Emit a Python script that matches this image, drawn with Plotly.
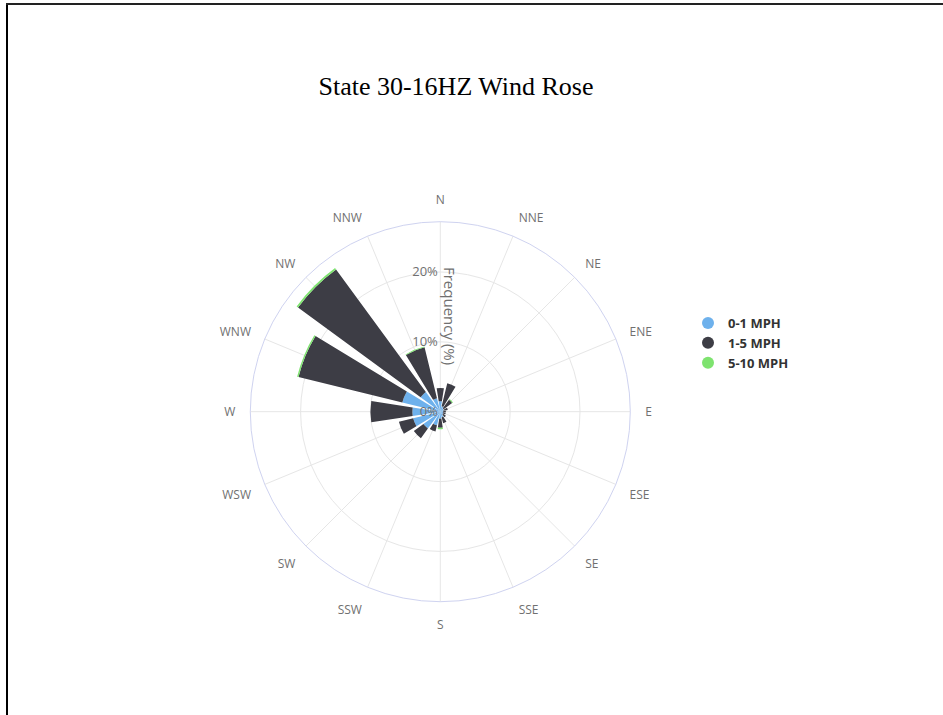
import plotly.graph_objects as go

directions = ["N", "NNE", "NE", "ENE", "E", "ESE", "SE", "SSE",
              "S", "SSW", "SW", "WSW", "W", "WNW", "NW", "NNW"]
speed_0_1 = [1.5, 0.8, 0.6, 0.5, 0.4, 0.4, 0.5, 0.8, 1.0, 2.0, 3.0, 4.0, 4.0, 5.6, 3.5, 2.0]
speed_1_5 = [1.9, 3.4, 1.5, 0.6, 0.4, 0.4, 0.5, 0.9, 1.3, 0.9, 1.7, 2.1, 6.0, 15.3, 21.75, 7.5]
speed_5_10 = [0.0, 0.0, 0.15, 0.0, 0.0, 0.0, 0.0, 0.0, 0.2, 0.0, 0.0, 0.0, 0.0, 0.2, 0.25, 0.1]

series_names = ["0-1 MPH", "1-5 MPH", "5-10 MPH"]
series_values = [speed_0_1, speed_1_5, speed_5_10]
series_colors = ["#6eb1ec", "#3d3d45", "#7ee36f"]

radial_ticks = [0, 10, 20]
radial_labels = ["0%", "10%", "20%"]

W, H = 943, 715

fig = go.Figure()
for name, vals, col in zip(series_names, series_values, series_colors):
    fig.add_trace(go.Barpolar(
        r=vals, theta=directions, name=name,
        marker=dict(color=col, line=dict(width=0)),
        showlegend=False,
    ))
# legend entries with circular markers
for name, col in zip(series_names, series_colors):
    fig.add_trace(go.Scatterpolar(
        r=[None], theta=[None], mode="markers", name=name,
        marker=dict(color=col, size=12, symbol="circle"),
        showlegend=True,
    ))

fig.update_layout(
    width=W, height=H,
    margin=dict(l=0, r=0, t=0, b=0),
    paper_bgcolor="white",
    title=dict(text="State 30-16HZ Wind Rose", x=456 / W, xanchor="center",
               y=1 - 86 / H, yanchor="middle",
               font=dict(family="Liberation Serif", size=26, color="#000000")),
    polar=dict(
        domain=dict(x=[(440.3 - 190) / W, (440.3 + 190) / W],
                    y=[(H - 411.7 - 190) / H, (H - 411.7 + 190) / H]),
        bgcolor="white",
        barmode="stack",
        bargap=0.22,
        angularaxis=dict(
            direction="clockwise", rotation=90,
            categoryorder="array", categoryarray=directions,
            showline=True, linecolor="#cfd3f0", linewidth=1,
            gridcolor="#e6e6e6", gridwidth=1,
            ticks="outside", ticklen=12, tickcolor="rgba(0,0,0,0)",
            tickfont=dict(family="Open Sans", size=12, color="#707070"),
        ),
        radialaxis=dict(
            angle=90, side="counterclockwise",
            range=[0, 27.2],
            tickvals=radial_ticks, ticktext=radial_labels,
            showline=False, ticks="",
            gridcolor="#e6e6e6", gridwidth=1,
            tickangle=90,
            tickfont=dict(family="Open Sans", size=13, color="#707070"),
        ),
    ),
    legend=dict(
        x=688 / W, y=1 - 308 / H, xanchor="left", yanchor="top",
        font=dict(family="Open Sans", size=13, color="#333333", weight="bold"),
        itemsizing="constant", tracegroupgap=0,
        bgcolor="rgba(0,0,0,0)",
    ),
    annotations=[dict(
        text="Frequency (%)", x=450 / W, y=1 - 316 / H,
        xref="paper", yref="paper", showarrow=False, textangle=90,
        font=dict(family="Open Sans", size=15, color="#707070"),
    )],
    shapes=[
        dict(type="line", xref="paper", yref="paper", x0=7 / W, x1=7 / W,
             y0=0, y1=1 - 3 / H, line=dict(color="#000000", width=2)),
        dict(type="line", xref="paper", yref="paper", x0=6 / W, x1=1,
             y0=1 - 4 / H, y1=1 - 4 / H, line=dict(color="#222222", width=2)),
    ],
)

fig.write_html("out.html", config={"displayModeBar": False},
               post_script="document.body.style.margin='0px';")
